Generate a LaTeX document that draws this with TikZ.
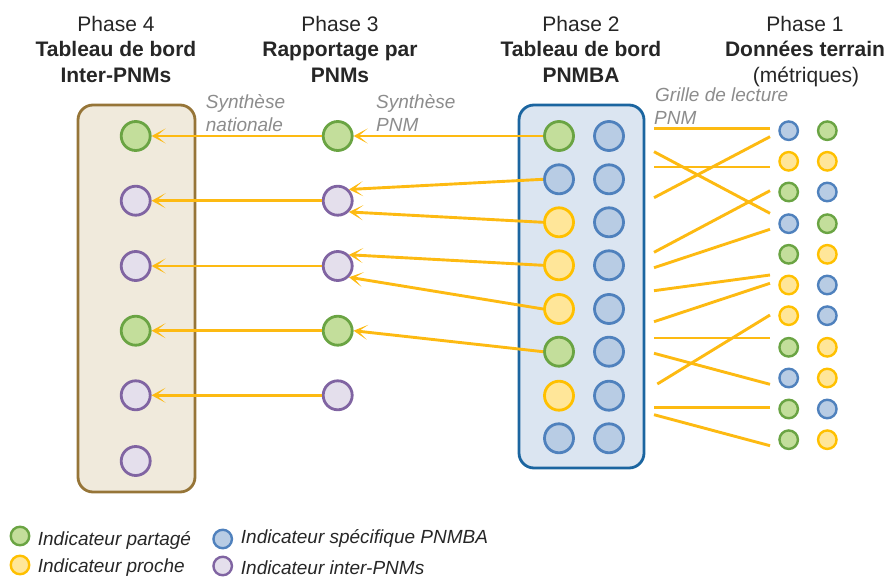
\documentclass[tikz,border=0pt]{standalone}
\usepackage{fontspec}
\setmainfont{Liberation Sans}
\usetikzlibrary{arrows.meta}
\definecolor{gfill}{HTML}{C3DE9B}
\definecolor{gdraw}{HTML}{6AA443}
\definecolor{bfill}{HTML}{B8CCE4}
\definecolor{bdraw}{HTML}{4F81BD}
\definecolor{yfill}{HTML}{FFE699}
\definecolor{ydraw}{HTML}{FFC000}
\definecolor{pfill}{HTML}{E4DFEC}
\definecolor{pdraw}{HTML}{8064A2}
\definecolor{arrcol}{HTML}{FDBA12}
\definecolor{boxfour}{HTML}{F0EADC}
\definecolor{boxfourd}{HTML}{967538}
\definecolor{boxtwo}{HTML}{DBE5F1}
\definecolor{boxtwod}{HTML}{1B65A0}
\definecolor{txt}{HTML}{262626}
\definecolor{graytxt}{HTML}{8C8C8C}
\begin{document}
\begin{tikzpicture}[x=1pt,y=-1pt,
  big/.style={circle,inner sep=0pt,minimum size=29pt,line width=2.8pt},
  small/.style={circle,inner sep=0pt,minimum size=18.5pt,line width=2.4pt},
  gr/.style={fill=gfill,draw=gdraw},
  bl/.style={fill=bfill,draw=bdraw},
  ye/.style={fill=yfill,draw=ydraw},
  pu/.style={fill=pfill,draw=pdraw},
  arr/.style={draw=arrcol,line width=2.9pt,-{Stealth[length=14pt,width=15pt,inset=9pt]}},
  link/.style={draw=arrcol,line width=2.9pt},
  head/.style={anchor=base,inner sep=0pt,text=txt,font=\fontsize{21}{25}\selectfont},
  headb/.style={head,font=\fontsize{21}{25}\selectfont\bfseries},
  note/.style={anchor=base west,inner sep=0pt,text=graytxt,font=\fontsize{19}{23}\selectfont\itshape},
  leg/.style={anchor=base west,inner sep=0pt,text=txt,font=\fontsize{19}{23}\selectfont\itshape}
]
\useasboundingbox (0,0) rectangle (890,577);

% boxes
\draw[fill=boxfour,draw=boxfourd,line width=2.8pt,rounded corners=15pt] (78,105) rectangle (195,492);
\draw[fill=boxtwo,draw=boxtwod,line width=2.8pt,rounded corners=15pt] (519,105) rectangle (644,468);

% headings
\node[head]  (h4a) at (116,31.7) {Phase 4};
\node[headb] (h4b) at (116,57) {Tableau de bord};
\node[headb] (h4c) at (116,83) {Inter-PNMs};
\node[head]  (h3a) at (340,31.7) {Phase 3};
\node[headb] (h3b) at (340,57) {Rapportage par};
\node[headb] (h3c) at (340,83) {PNMs};
\node[head]  (h2a) at (581,31.7) {Phase 2};
\node[headb] (h2b) at (581,57) {Tableau de bord};
\node[headb] (h2c) at (581,83) {PNMBA};
\node[head]  (h1a) at (805,31.7) {Phase 1};
\node[headb] (h1b) at (805,57) {Données terrain};
\node[head]  (h1c) at (806,83) {(métriques)};

% notes
\node[note] (n1) at (205.7,108.3) {Synthèse};
\node[note] (n2) at (205.7,131.7) {nationale};
\node[note] (n3) at (376,108.3) {Synthèse};
\node[note] (n4) at (376,131.7) {PNM};
\node[note] (n5) at (655,101.7) {Grille de lecture};
\node[note] (n6) at (654,125) {PNM};

% phase 4
\node[big,gr] (a1) at (135.7,136) {};
\node[big,pu] (a2) at (135.7,200.7) {};
\node[big,pu] (a3) at (135.7,266) {};
\node[big,gr] (a4) at (135.7,330.7) {};
\node[big,pu] (a5) at (135.7,395.3) {};
\node[big,pu] (a6) at (135.7,461) {};

% phase 3
\node[big,gr] (b1) at (337.7,136) {};
\node[big,pu] (b2) at (337.7,200.7) {};
\node[big,pu] (b3) at (337.7,266) {};
\node[big,gr] (b4) at (337.7,330.7) {};
\node[big,pu] (b5) at (337.7,395.3) {};

% phase 2
\foreach \y/\s [count=\i] in {136/gr,179.3/bl,222.3/ye,265.3/ye,309/ye,351.7/gr,395.7/ye,438.3/bl}{
  \node[big,\s] (c\i) at (559,\y) {};
  \node[big,bl] (d\i) at (609,\y) {};
}

% phase 1
\foreach \y/\s/\t [count=\i] in {130.7/bl/gr,161.3/ye/ye,192/gr/bl,223.7/bl/gr,254.3/gr/ye,285/ye/bl,315.7/ye/bl,347.3/gr/ye,378/bl/ye,409/gr/bl,439.7/gr/ye}{
  \node[small,\s] (e\i) at (788.7,\y) {};
  \node[small,\t] (f\i) at (827.3,\y) {};
}

% arrows phase 3 -> phase 4
\foreach \i in {1,...,5}{\draw[arr] (b\i.west) -- (a\i.east);}

% arrows phase 2 -> phase 3
\draw[arr] (c1.west) -- (b1.east);
\draw[arr] (c2.west) -- (b2.north east);
\draw[arr] (c3.west) -- (b2.south east);
\draw[arr] (c4.west) -- (b3.north east);
\draw[arr] (c5.west) -- (b3.south east);
\draw[arr] (c6.west) -- (b4.east);

% reading grid lines
\foreach \n/\xa/\ya/\xb/\yb in {
  1/654/128.3/770/128.3,
  2/654/197.7/770/136.7,
  3/654/151.7/770/213.3,
  4/654/167/770/167,
  5/654/252.3/770/190.7,
  6/654/267.7/770/229.3,
  7/654/290.7/770/275,
  8/654/321.7/770/283.3,
  9/654/338/770/338,
  10/657.3/384/770/315,
  11/654/353.3/770/384.3,
  12/654/407.3/770/407.3,
  13/654/414.7/770/445.7}{
  \coordinate (l\n a) at (\xa,\ya);
  \coordinate (l\n b) at (\xb,\yb);
  \draw[link] (l\n a) -- (l\n b);
}

% legend
\node[small,gr] (g1) at (20,536) {};
\node[small,ye] (g2) at (20,565) {};
\node[small,bl] (g3) at (222.7,539) {};
\node[small,pu] (g4) at (222.7,566) {};
\node[leg] (t1) at (37.7,545) {Indicateur partagé};
\node[leg] (t2) at (37.7,572.7) {Indicateur proche};
\node[leg] (t3) at (240.7,543.3) {Indicateur spécifique PNMBA};
\node[leg] (t4) at (240.7,574) {Indicateur inter-PNMs};
\end{tikzpicture}
\end{document}
